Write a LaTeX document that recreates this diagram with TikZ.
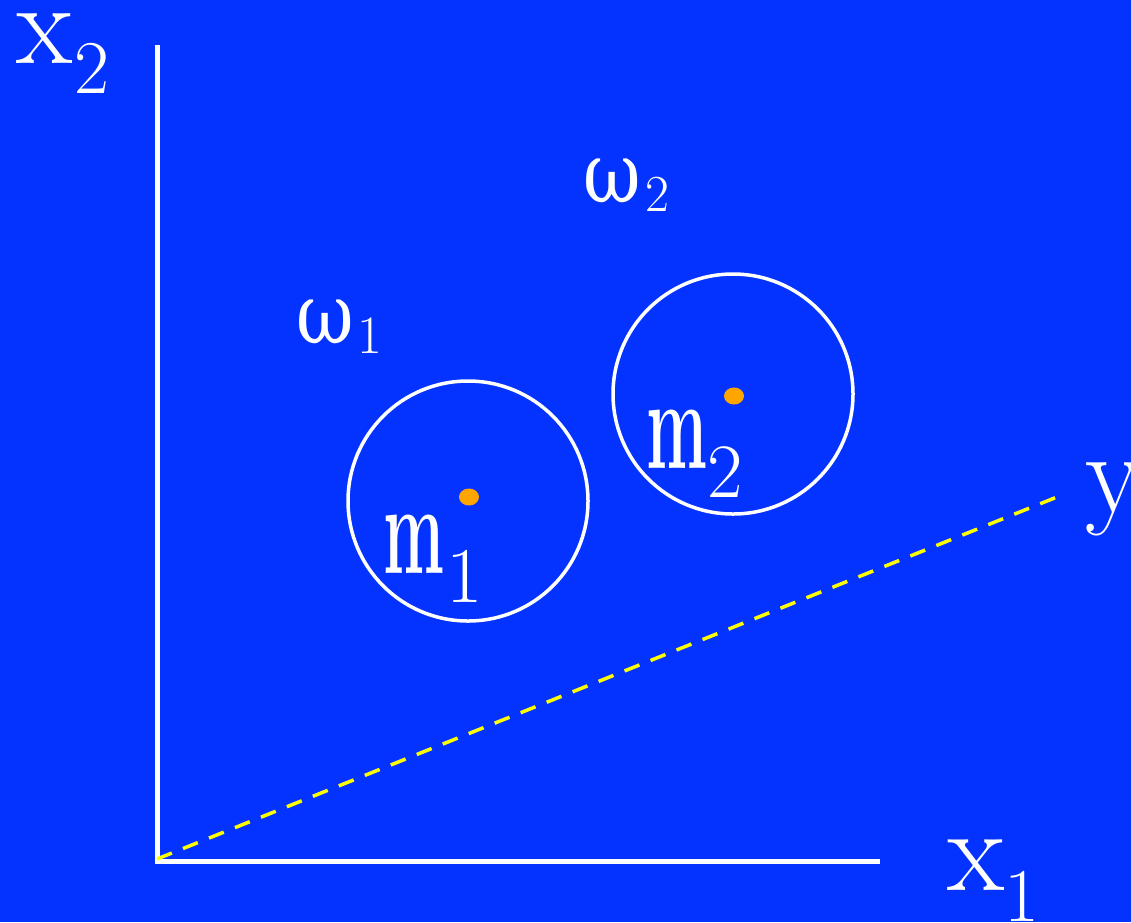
\documentclass[tikz,border=0pt]{standalone}
\usepackage{fontspec}
\usepackage{graphicx}
\newfontfamily\lblfont{DejaVu Serif}
\definecolor{bgblue}{RGB}{4,51,255}
\definecolor{dotorange}{RGB}{255,165,0}
\definecolor{dashyellow}{RGB}{255,255,0}
\tikzset{
  axisline/.style={draw=white,line width=5pt},
  yline/.style={draw=dashyellow,line width=3.5pt,dash pattern=on 16pt off 12pt},
  cluster/.style={draw=white,line width=3.5pt},
  centre/.style={fill=dotorange},
  lbl/.style={text=white,inner sep=0pt,anchor=base west},
}
\newcommand{\fsz}[1]{\rmfamily\fontsize{#1}{#1}\selectfont}
\newcommand{\gsz}[1]{\lblfont\fontsize{#1}{#1}\selectfont}
\begin{document}
\begin{tikzpicture}[x=1pt,y=-1pt]
\useasboundingbox (0,0) rectangle (1131,922);
\fill[bgblue] (0,0) rectangle (1131,922);
% axes
\coordinate (O) at (157,861);
\coordinate (Ytop) at (157,45);
\coordinate (Xend) at (880,861);
\coordinate (Yend) at (1057,497);
\draw[axisline] (Ytop) -- (157,863);
\draw[axisline] (155,861) -- (Xend);
\draw[yline] (157,859) -- (Yend);
% clusters
\draw[cluster] (468,501) circle (120pt);
\draw[cluster] (733,394) circle (120pt);
\fill[centre] (469,497) ellipse (10pt and 8.5pt);
\fill[centre] (734,396) ellipse (10pt and 8.5pt);
% labels
\node[lbl,font=\fsz{116}] (x2) at (16,63) {x};
\node[lbl,font=\fsz{76}] (x2s) at (74,93) {2};
\node[lbl,font=\fsz{118}] (x1) at (947,890) {x};
\node[lbl,font=\fsz{76}] (x1s) at (1004,921) {1};
\node[lbl,font=\fsz{116}] (ylab) at (1085,512) {y};
\node[lbl,font=\gsz{84}] (w1) at (296,343) {\scalebox{0.84}[1]{ω}};
\node[lbl,font=\fsz{54}] (w1s) at (357,353) {1};
\node[lbl,font=\gsz{84}] (w2) at (583,202) {\scalebox{0.84}[1]{ω}};
\node[lbl,font=\fsz{52}] (w2s) at (645,211) {2};
\node[lbl,font=\fsz{130}] (m1) at (383,573) {\scalebox{0.5}[1]{\bfseries m}};
\node[lbl,font=\fsz{79}] (m1s) at (446,602) {1};
\node[lbl,font=\fsz{130}] (m2) at (646,468) {\scalebox{0.5}[1]{\bfseries m}};
\node[lbl,font=\fsz{77}] (m2s) at (707,497) {2};
\end{tikzpicture}
\end{document}
